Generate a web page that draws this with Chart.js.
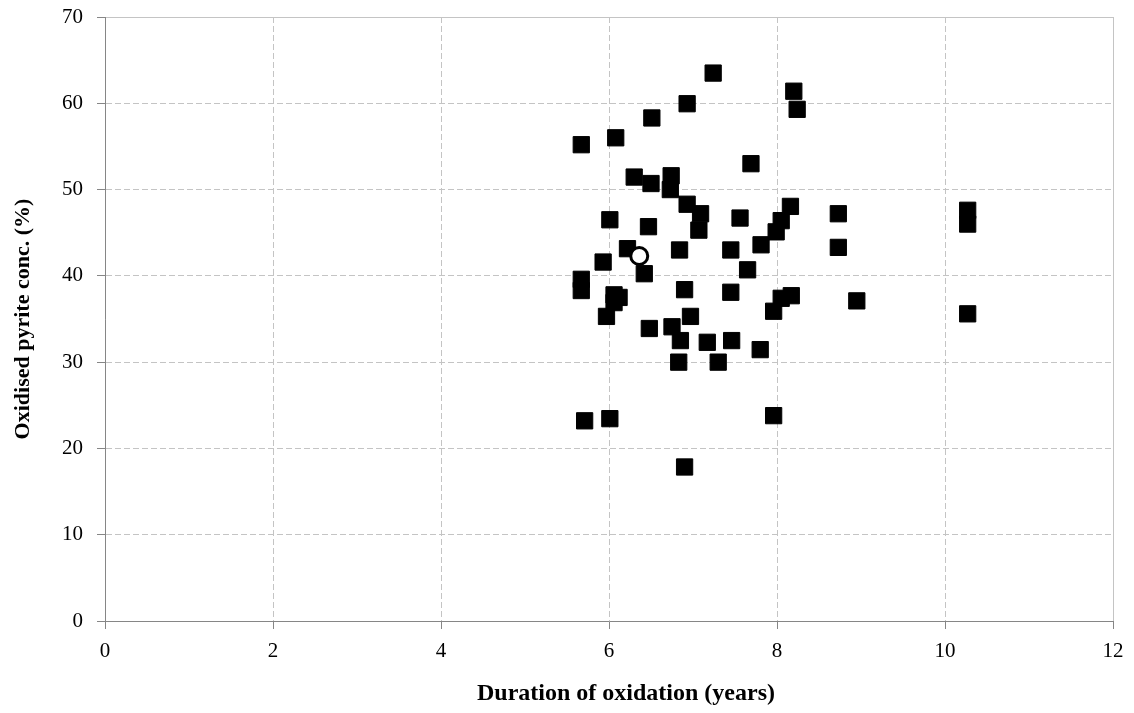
<!DOCTYPE html>
<html>
<head>
<meta charset="utf-8">
<script src="https://cdn.jsdelivr.net/npm/chart.js@4"></script>
<style>
    body { margin: 0; background: #fff; }
    #wrap { width: 1134px; height: 713px; }
</style>
</head>
<body>
<div id="wrap"><canvas id="chart1"></canvas></div>
<script>
// Filled squares: duration (years) / oxidised pyrite (%)
const squareX = [7.24, 8.20, 8.24, 6.93, 6.51, 6.08, 5.67, 7.69, 6.30, 6.74,
    6.50, 6.73, 6.93, 7.09, 7.07, 7.56, 8.16, 8.05, 7.99, 8.73,
    6.01, 6.47, 6.22, 5.93, 6.84, 7.45, 7.81, 8.73, 6.42, 5.67,
    5.67, 7.65, 6.90, 7.45, 6.06, 6.12, 6.06, 5.97, 8.17, 8.05,
    7.96, 8.95, 6.48, 6.75, 6.97, 6.85, 7.17, 7.46, 7.80, 6.83,
    7.30, 5.71, 6.01, 7.96, 6.90, 10.27, 10.27, 10.27];
const squareY = [63.5, 61.4, 59.3, 59.95, 58.3, 56.0, 55.2, 53.0, 51.45, 51.6,
    50.7, 50.0, 48.3, 47.2, 45.3, 46.7, 48.05, 46.4, 45.1, 47.2,
    46.5, 45.7, 43.15, 41.6, 43.0, 43.0, 43.6, 43.3, 40.25, 39.6,
    38.3, 40.7, 38.4, 38.1, 37.8, 37.5, 36.9, 35.3, 37.7, 37.4,
    35.9, 37.1, 33.9, 34.1, 35.3, 32.5, 32.3, 32.5, 31.45, 30.0,
    30.0, 23.2, 23.45, 23.8, 17.85, 47.6, 46.0, 35.6];

// Open circle
const circleX = [6.36];
const circleY = [42.3];

const xTicks = [0, 2, 4, 6, 8, 10, 12];
const yTicks = [0, 10, 20, 30, 40, 50, 60, 70];

const toPoints = (xs, ys) => xs.map((x, i) => ({ x: x, y: ys[i] }));

const gridGrey = '#c4c4c4';
const axisGrey = '#868686';
const serif = "'Liberation Serif', 'Times New Roman', serif";

const data = {
    datasets: [{
        label: 'circle',
        data: toPoints(circleX, circleY),
        pointStyle: 'circle',
        pointRadius: 8.5,
        borderWidth: 3,
        borderColor: '#000',
        backgroundColor: '#fff',
        order: 0
    }, {
        label: 'squares',
        data: toPoints(squareX, squareY),
        pointStyle: 'rect',
        pointRadius: 11.5,
        borderWidth: 1,
        borderColor: '#000',
        backgroundColor: '#000',
        order: 1
    }]
};

const config = {
    type: 'scatter',
    data: data,
    options: {
        responsive: true,
        maintainAspectRatio: false,
        animation: false,
        layout: {
            padding: { top: 17, right: 21, left: 0, bottom: 0 }
        },
        scales: {
            x: {
                type: 'linear',
                min: 0,
                max: 12,
                afterBuildTicks: (axis) => { axis.ticks = xTicks.map(v => ({ value: v })); },
                afterFit: (axis) => {
                    axis.height = 92;
                    axis.paddingLeft = 0;
                    axis.paddingRight = 0;
                },
                // title sits a little right of the plot centre in the original
                afterUpdate: (axis) => {
                    const drawTitle = Object.getPrototypeOf(axis).drawTitle;
                    axis.drawTitle = function () {
                        this.ctx.save();
                        this.ctx.translate(17, 0);
                        drawTitle.call(this);
                        this.ctx.restore();
                    };
                },
                grid: {
                    color: gridGrey,
                    tickLength: 8,
                    tickColor: axisGrey
                },
                border: {
                    color: axisGrey,
                    width: 1,
                    dash: (ctx) => (ctx.tick && ctx.tick.value === 12) ? [] : [6, 3]
                },
                ticks: {
                    color: '#000',
                    padding: 10,
                    font: { family: serif, size: 21 }
                },
                title: {
                    display: true,
                    text: 'Duration of oxidation (years)',
                    color: '#000',
                    padding: { top: 0, bottom: 5 },
                    font: { family: serif, size: 24, weight: 'bold' }
                }
            },
            y: {
                type: 'linear',
                min: 0,
                max: 70,
                afterBuildTicks: (axis) => { axis.ticks = yTicks.map(v => ({ value: v })); },
                afterFit: (axis) => {
                    axis.width = 105;
                    axis.paddingTop = 0;
                    axis.paddingBottom = 0;
                },
                grid: {
                    color: gridGrey,
                    tickLength: 8,
                    tickColor: axisGrey
                },
                border: {
                    color: axisGrey,
                    width: 1,
                    dash: (ctx) => (ctx.tick && ctx.tick.value === 70) ? [] : [6, 3]
                },
                ticks: {
                    color: '#000',
                    padding: 14,
                    font: { family: serif, size: 21 }
                },
                title: {
                    display: true,
                    text: 'Oxidised pyrite conc. (%)',
                    color: '#000',
                    padding: { top: 10, bottom: 0 },
                    font: { family: serif, size: 22, weight: 'bold' }
                }
            }
        },
        plugins: {
            legend: { display: false },
            tooltip: { enabled: false }
        }
    }
};

chart = document.getElementById('chart1');
new Chart(chart, config);
</script>
</body>
</html>
